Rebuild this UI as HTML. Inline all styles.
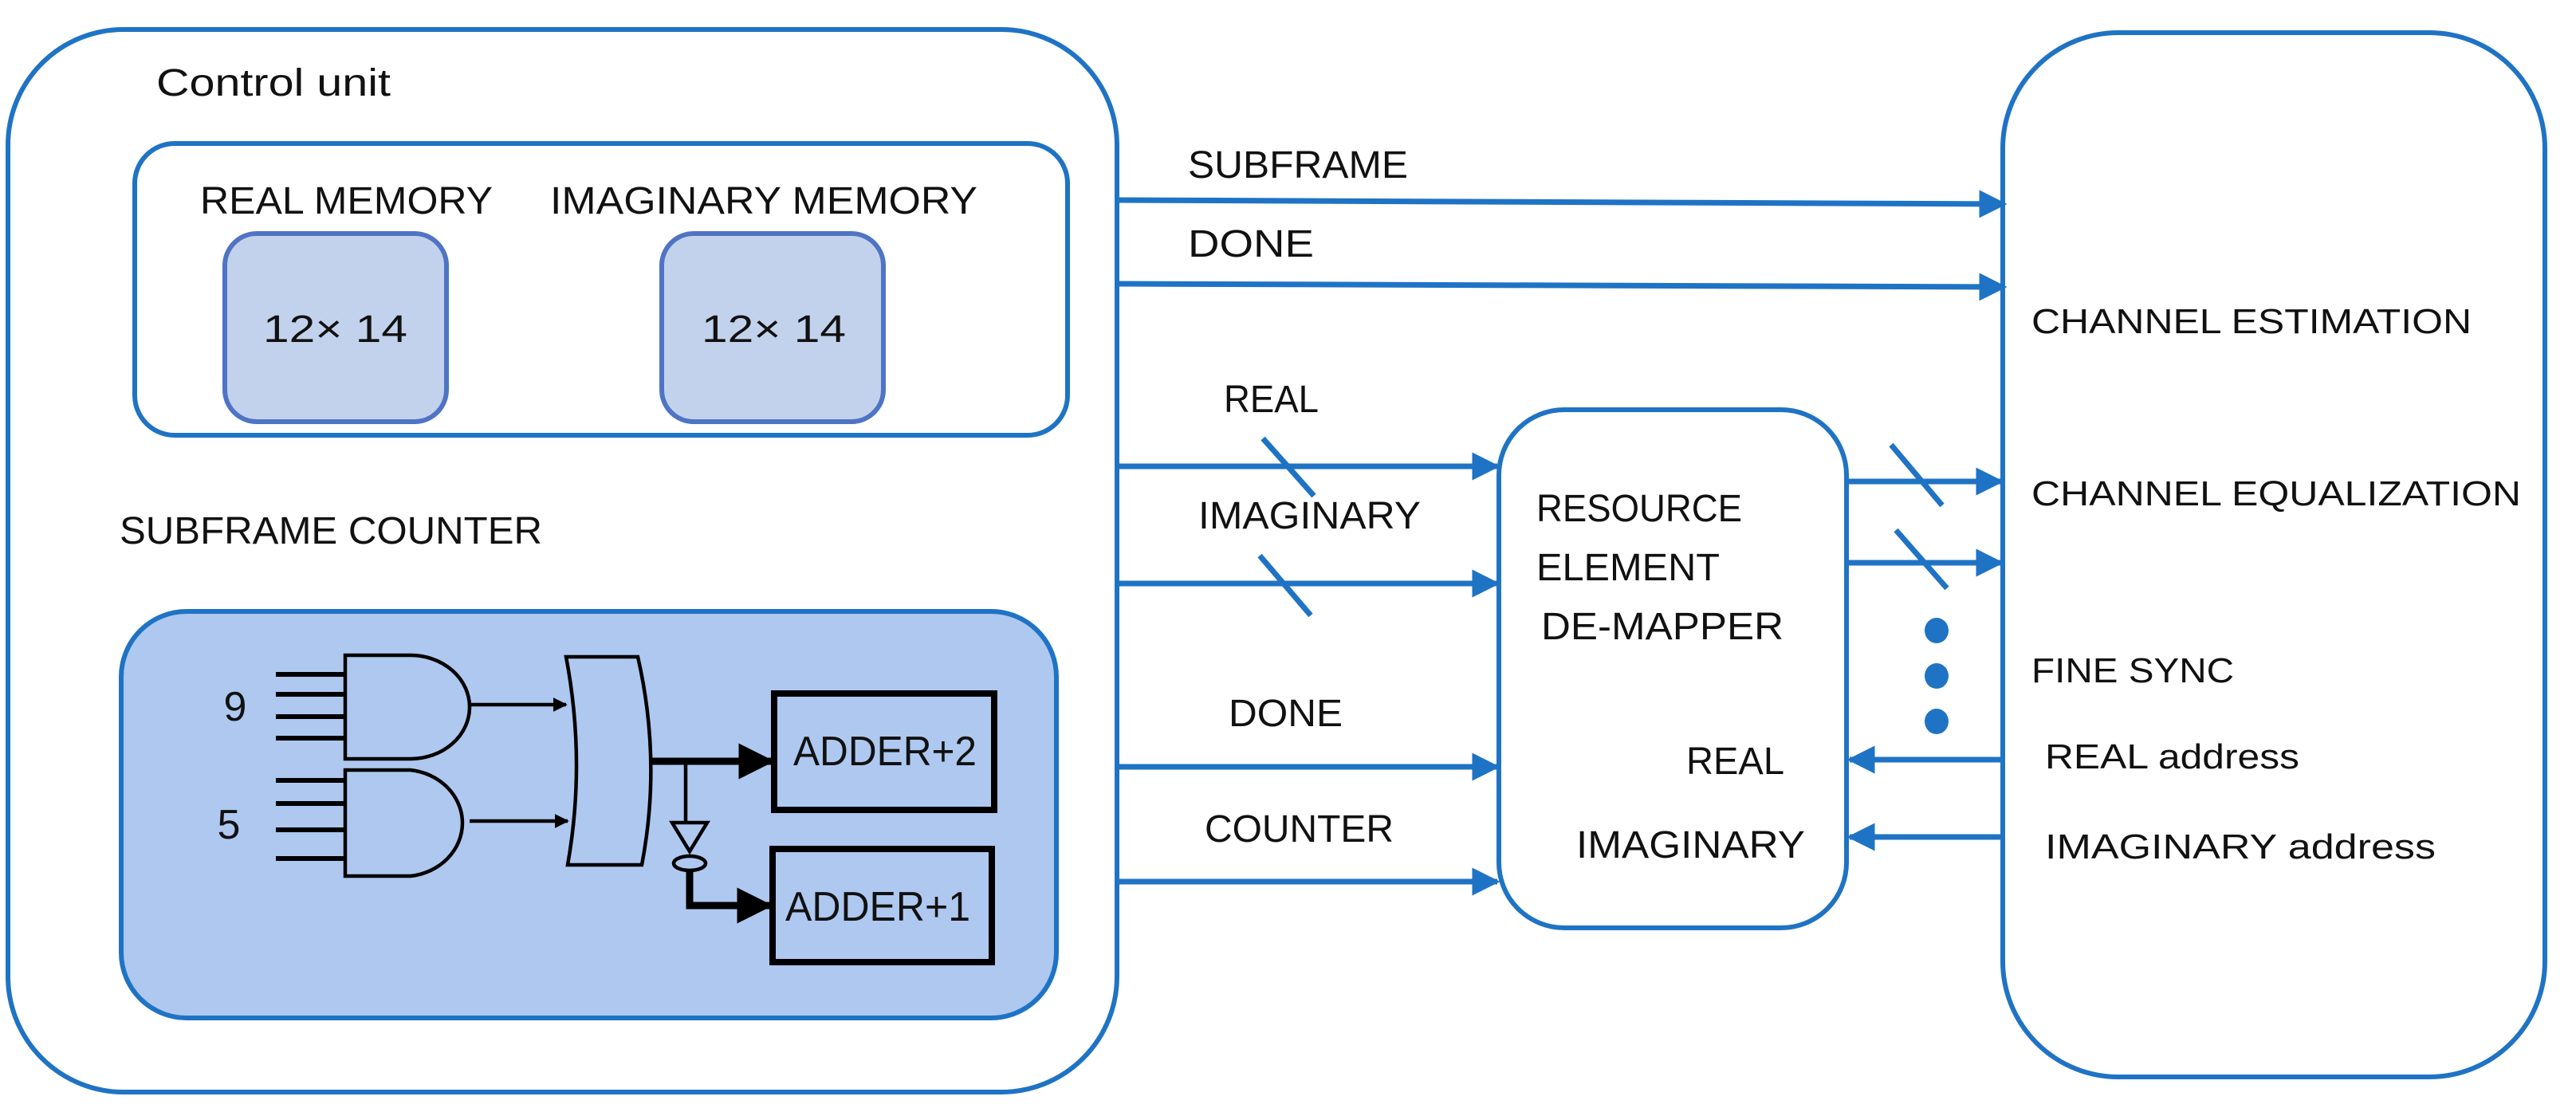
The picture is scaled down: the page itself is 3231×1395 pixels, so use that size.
<!DOCTYPE html>
<html><head><meta charset="utf-8"><style>
html,body{margin:0;padding:0;background:#fff;}
svg{display:block;}
text{font-family:"Liberation Sans",sans-serif;fill:#111;}
</style></head><body>
<svg width="3231" height="1395" viewBox="0 0 3231 1395" xmlns="http://www.w3.org/2000/svg">
<defs>
<marker id="ab" viewBox="0 0 10 10" refX="9" refY="5" markerWidth="5" markerHeight="5" orient="auto" markerUnits="strokeWidth"><path d="M0,0 L10,5 L0,10 z" fill="#1f73c4"/></marker>
<marker id="ak" viewBox="0 0 10 10" refX="9" refY="5" markerWidth="5" markerHeight="5" orient="auto" markerUnits="strokeWidth"><path d="M0,0 L10,5 L0,10 z" fill="#000"/></marker>
<marker id="ak2" viewBox="0 0 10 10" refX="9" refY="5" markerWidth="4" markerHeight="4" orient="auto" markerUnits="strokeWidth"><path d="M0,0 L10,5 L0,10 z" fill="#000"/></marker>
</defs>
<g fill="none" stroke="#1f73c4" stroke-width="6">
<rect x="10" y="37" width="1391" height="1333" rx="145"/>
<rect x="169" y="180" width="1170" height="366" rx="50"/>
<rect x="2512" y="41" width="680" height="1310" rx="145"/>
<rect x="1880" y="514" width="436" height="650" rx="82"/>
</g>
<rect x="282" y="293" width="278" height="236" rx="40" fill="#c3d2ec" stroke="#4f74c4" stroke-width="6"/>
<rect x="830" y="293" width="278" height="236" rx="40" fill="#c3d2ec" stroke="#4f74c4" stroke-width="6"/>
<rect x="152" y="767" width="1173" height="510" rx="82" fill="#aec8f0" stroke="#1f73c4" stroke-width="6"/>

<text x="196" y="120" font-size="48" textLength="294" lengthAdjust="spacingAndGlyphs">Control unit</text>
<text x="251" y="268" font-size="48" textLength="367" lengthAdjust="spacingAndGlyphs">REAL MEMORY</text>
<text x="690" y="268" font-size="48" textLength="536" lengthAdjust="spacingAndGlyphs">IMAGINARY MEMORY</text>
<text x="330" y="429" font-size="48" textLength="181" lengthAdjust="spacingAndGlyphs">12× 14</text>
<text x="880" y="429" font-size="48" textLength="181" lengthAdjust="spacingAndGlyphs">12× 14</text>
<text x="150" y="682" font-size="48" textLength="530" lengthAdjust="spacingAndGlyphs">SUBFRAME COUNTER</text>

<g stroke="#000" stroke-width="6" fill="none">
<line x1="346" y1="846" x2="433" y2="846"/><line x1="346" y1="871" x2="433" y2="871"/>
<line x1="346" y1="899" x2="433" y2="899"/><line x1="346" y1="926" x2="433" y2="926"/>
<line x1="346" y1="979" x2="433" y2="979"/><line x1="346" y1="1008" x2="433" y2="1008"/>
<line x1="346" y1="1041" x2="433" y2="1041"/><line x1="346" y1="1077" x2="433" y2="1077"/>
</g>
<g stroke="#000" stroke-width="4.5" fill="none">
<path d="M433,822 L515,822 A74,65 0 0 1 515,952 L433,952 Z"/>
<path d="M433,966 L515,966 A74,67 0 0 1 515,1099 L433,1099 Z"/>
<path d="M710,824 L800,824 Q830,955 805,1085 L712,1085 Q735,955 710,824 Z"/>
<line x1="589" y1="884" x2="710" y2="884" marker-end="url(#ak2)"/>
<line x1="589" y1="1030" x2="712" y2="1030" marker-end="url(#ak2)"/>
<rect x="971" y="870" width="276" height="146" stroke-width="8"/>
<rect x="969" y="1065" width="275" height="142" stroke-width="8"/>
<line x1="860" y1="955" x2="860" y2="1032"/>
<path d="M843,1032 L887,1032 L865,1068 Z"/>
<ellipse cx="865" cy="1083" rx="20" ry="9"/>
</g>
<line x1="817" y1="955" x2="967" y2="955" stroke="#000" stroke-width="9" marker-end="url(#ak)"/>
<path d="M865,1092 L865,1136 L965,1136" fill="none" stroke="#000" stroke-width="9" marker-end="url(#ak)"/>
<text x="295" y="904" font-size="52" text-anchor="middle">9</text>
<text x="287" y="1052" font-size="52" text-anchor="middle">5</text>
<text x="995" y="960" font-size="52" textLength="230" lengthAdjust="spacingAndGlyphs">ADDER+2</text>
<text x="985" y="1155" font-size="52" textLength="232" lengthAdjust="spacingAndGlyphs">ADDER+1</text>

<g stroke="#1f73c4" stroke-width="7" fill="none" marker-end="url(#ab)">
<line x1="1401" y1="251" x2="2514" y2="256"/>
<line x1="1401" y1="356" x2="2514" y2="360"/>
<line x1="1401" y1="585" x2="1878" y2="585"/>
<line x1="1401" y1="732" x2="1878" y2="732"/>
<line x1="1401" y1="962" x2="1878" y2="962"/>
<line x1="1401" y1="1106" x2="1878" y2="1106"/>
<line x1="2316" y1="604" x2="2510" y2="604"/>
<line x1="2316" y1="706" x2="2510" y2="706"/>
<line x1="2512" y1="953" x2="2320" y2="953"/>
<line x1="2512" y1="1050" x2="2320" y2="1050"/>
</g>
<g stroke="#1f73c4" stroke-width="7">
<line x1="1584" y1="550" x2="1648" y2="622"/>
<line x1="1580" y1="697" x2="1644" y2="772"/>
<line x1="2372" y1="558" x2="2436" y2="634"/>
<line x1="2378" y1="665" x2="2442" y2="738"/>
</g>
<g fill="#1f73c4"><ellipse cx="2429" cy="791" rx="15" ry="16"/><ellipse cx="2429" cy="848" rx="15" ry="16"/><ellipse cx="2429" cy="905" rx="15" ry="16"/></g>

<text x="1490" y="223" font-size="48" textLength="276" lengthAdjust="spacingAndGlyphs">SUBFRAME</text>
<text x="1490" y="322" font-size="48" textLength="158" lengthAdjust="spacingAndGlyphs">DONE</text>
<text x="1535" y="517" font-size="48" textLength="119" lengthAdjust="spacingAndGlyphs">REAL</text>
<text x="1503" y="663" font-size="48" textLength="279" lengthAdjust="spacingAndGlyphs">IMAGINARY</text>
<text x="1541" y="911" font-size="48" textLength="143" lengthAdjust="spacingAndGlyphs">DONE</text>
<text x="1511" y="1056" font-size="48" textLength="237" lengthAdjust="spacingAndGlyphs">COUNTER</text>
<text x="1927" y="654" font-size="48" textLength="258" lengthAdjust="spacingAndGlyphs">RESOURCE</text>
<text x="1927" y="728" font-size="48" textLength="230" lengthAdjust="spacingAndGlyphs">ELEMENT</text>
<text x="1933" y="802" font-size="48" textLength="304" lengthAdjust="spacingAndGlyphs">DE-MAPPER</text>
<text x="2115" y="971" font-size="48" textLength="123" lengthAdjust="spacingAndGlyphs">REAL</text>
<text x="1977" y="1076" font-size="48" textLength="287" lengthAdjust="spacingAndGlyphs">IMAGINARY</text>
<text x="2548" y="418" font-size="44" textLength="552" lengthAdjust="spacingAndGlyphs">CHANNEL ESTIMATION</text>
<text x="2548" y="634" font-size="44" textLength="614" lengthAdjust="spacingAndGlyphs">CHANNEL EQUALIZATION</text>
<text x="2548" y="856" font-size="44" textLength="254" lengthAdjust="spacingAndGlyphs">FINE SYNC</text>
<text x="2565" y="964" font-size="44" textLength="319" lengthAdjust="spacingAndGlyphs">REAL address</text>
<text x="2565" y="1077" font-size="44" textLength="490" lengthAdjust="spacingAndGlyphs">IMAGINARY address</text>
</svg>
</body></html>
